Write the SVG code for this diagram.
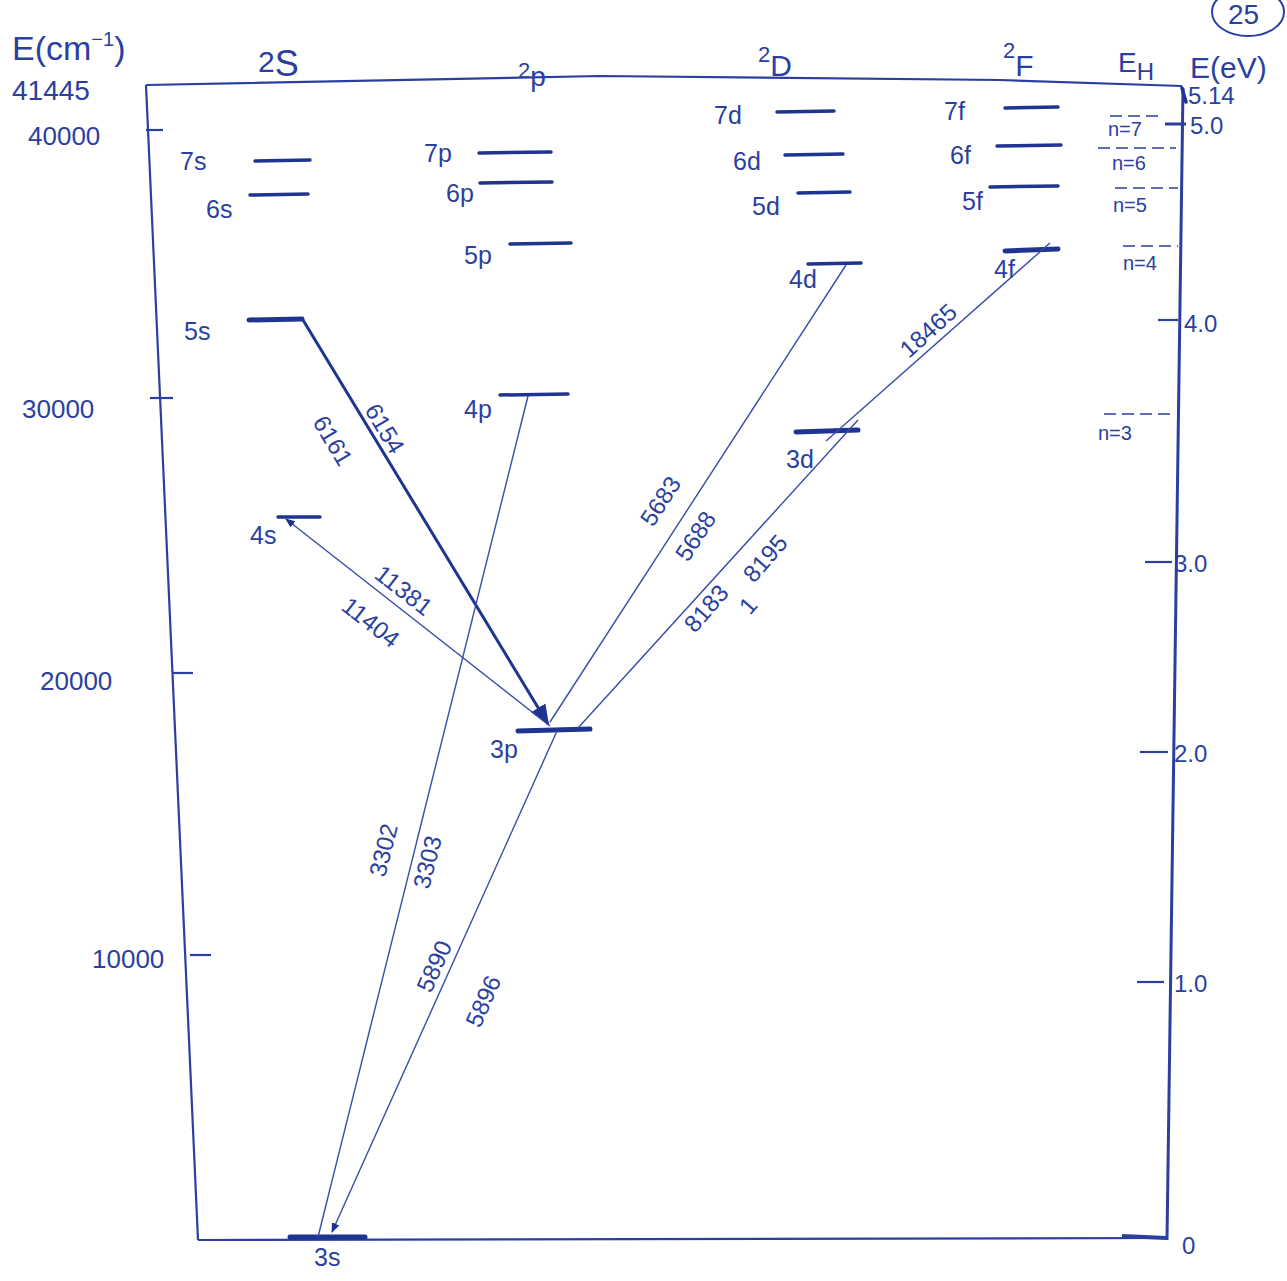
<svg xmlns="http://www.w3.org/2000/svg" width="1287" height="1281" viewBox="0 0 1287 1281">
<style>
text{font-family:"Liberation Sans","DejaVu Sans",sans-serif;fill:#2b3f9e}
.ax{fill:none;stroke:#2b3f9e;stroke-width:2.2}
.tk{stroke:#2b3f9e;stroke-width:2.2}
.lv{stroke:#1f3390;stroke-width:3.5;stroke-linecap:round}
.lvt{stroke:#1f3390;stroke-width:5;stroke-linecap:round}
.tr{fill:none;stroke:#3a4ca6;stroke-width:1.4}
.trb{fill:none;stroke:#1f3390;stroke-width:3}
.dash{stroke:#2b3f9e;stroke-width:1.6;stroke-dasharray:12 6}
.lab{font-size:25px}
.wl{font-size:24px}
.ev{font-size:24px}
</style>
<defs>
<marker id="ah" viewBox="0 0 10 10" refX="9" refY="5" markerWidth="7" markerHeight="7" orient="auto-start-reverse">
<path d="M0,1 L10,5 L0,9 z" fill="#1f3390"/>
</marker>
</defs>
<rect width="1287" height="1281" fill="#ffffff"/>

<g id="frame">
<polyline class="ax" points="146,85 600,76 1000,80 1182,86"/>
<line class="ax" x1="146" y1="85" x2="198" y2="1240"/>
<line class="ax" x1="198" y1="1240" x2="1166" y2="1238"/>
<line class="ax" x1="1183" y1="88" x2="1167" y2="1240" style="stroke-width:3"/>
<line class="tk" x1="146" y1="130" x2="163" y2="130"/>
<line class="tk" x1="150" y1="398" x2="173" y2="398"/>
<line class="tk" x1="172" y1="673" x2="193" y2="673"/>
<line class="tk" x1="190" y1="955" x2="211" y2="955"/>
<line class="tk" x1="1165" y1="124" x2="1186" y2="124" style="stroke-width:3"/>
<line class="tk" x1="1158" y1="320" x2="1178" y2="320"/>
<line class="tk" x1="1145" y1="562" x2="1172" y2="562"/>
<line class="tk" x1="1140" y1="752" x2="1168" y2="752"/>
<line class="tk" x1="1137" y1="982" x2="1164" y2="982"/>
<line class="tk" x1="1122" y1="1236" x2="1166" y2="1238" style="stroke-width:4"/>
<line class="lv" x1="1182" y1="88" x2="1186" y2="102"/>
</g>

<g id="axis-labels">
<text x="12" y="60" font-size="34">E(cm<tspan font-size="20" dy="-14">−1</tspan><tspan dy="14">)</tspan></text>
<text x="12" y="100" font-size="28">41445</text>
<text x="28" y="145" font-size="26">40000</text>
<text x="22" y="418" font-size="26">30000</text>
<text x="40" y="690" font-size="26">20000</text>
<text x="92" y="968" font-size="26">10000</text>
<text x="258" y="72" font-size="30">2<tspan font-size="36" dy="4">S</tspan></text>
<text x="518" y="78" font-size="22">2<tspan font-size="28" dy="8">p</tspan></text>
<text x="758" y="62" font-size="22">2<tspan font-size="30" dy="14">D</tspan></text>
<text x="1003" y="58" font-size="22">2<tspan font-size="30" dy="18">F</tspan></text>
<text x="1118" y="72" font-size="28">E<tspan font-size="24" dy="8">H</tspan></text>
<text x="1190" y="78" font-size="30">E(eV)</text>
<ellipse cx="1248" cy="12" rx="36" ry="24" fill="none" stroke="#2b3f9e" stroke-width="2"/>
<text x="1228" y="24" font-size="28">25</text>
<text x="1188" y="104" class="ev">5.14</text>
<text x="1190" y="134" class="ev">5.0</text>
<text x="1184" y="332" class="ev">4.0</text>
<text x="1174" y="572" class="ev">3.0</text>
<text x="1174" y="762" class="ev">2.0</text>
<text x="1174" y="992" class="ev">1.0</text>
<text x="1182" y="1254" class="ev">0</text>
</g>

<g id="hydrogen">
<line class="dash" x1="1110" y1="116" x2="1162" y2="116"/>
<text x="1108" y="136" font-size="20">n=7</text>
<line class="dash" x1="1098" y1="148" x2="1176" y2="148"/>
<text x="1112" y="170" font-size="20">n=6</text>
<line class="dash" x1="1115" y1="188" x2="1178" y2="188"/>
<text x="1113" y="212" font-size="20">n=5</text>
<line class="dash" x1="1123" y1="246" x2="1178" y2="246"/>
<text x="1123" y="270" font-size="20">n=4</text>
<line class="dash" x1="1104" y1="414" x2="1172" y2="414"/>
<text x="1098" y="440" font-size="20">n=3</text>
</g>

<g id="level-3s"><line class="lvt" x1="290" y1="1237" x2="365" y2="1237"/><text class="lab" x="314" y="1266">3s</text></g>
<g id="level-4s"><line class="lv" x1="278" y1="517" x2="320" y2="517"/><text class="lab" x="250" y="544">4s</text></g>
<g id="level-5s"><line class="lvt" x1="249" y1="320" x2="302" y2="319"/><text class="lab" x="184" y="340">5s</text></g>
<g id="level-6s"><line class="lv" x1="250" y1="195" x2="308" y2="194"/><text class="lab" x="206" y="218">6s</text></g>
<g id="level-7s"><line class="lv" x1="255" y1="161" x2="310" y2="160"/><text class="lab" x="180" y="170">7s</text></g>

<g id="level-3p"><line class="lvt" x1="518" y1="731" x2="590" y2="729"/><text class="lab" x="490" y="758">3p</text></g>
<g id="level-4p"><line class="lv" x1="500" y1="395" x2="568" y2="394"/><text class="lab" x="464" y="418">4p</text></g>
<g id="level-5p"><line class="lv" x1="510" y1="244" x2="571" y2="243"/><text class="lab" x="464" y="264">5p</text></g>
<g id="level-6p"><line class="lv" x1="480" y1="183" x2="552" y2="182"/><text class="lab" x="446" y="202">6p</text></g>
<g id="level-7p"><line class="lv" x1="479" y1="153" x2="551" y2="152"/><text class="lab" x="424" y="162">7p</text></g>

<g id="level-3d"><line class="lvt" x1="796" y1="432" x2="858" y2="430"/><text class="lab" x="786" y="468">3d</text></g>
<g id="level-4d"><line class="lv" x1="808" y1="264" x2="861" y2="263"/><text class="lab" x="789" y="288">4d</text></g>
<g id="level-5d"><line class="lv" x1="798" y1="193" x2="850" y2="192"/><text class="lab" x="752" y="215">5d</text></g>
<g id="level-6d"><line class="lv" x1="785" y1="155" x2="843" y2="154"/><text class="lab" x="733" y="170">6d</text></g>
<g id="level-7d"><line class="lv" x1="777" y1="112" x2="834" y2="111"/><text class="lab" x="714" y="124">7d</text></g>

<g id="level-4f"><line class="lvt" x1="1005" y1="251" x2="1058" y2="249"/><text class="lab" x="994" y="278">4f</text></g>
<g id="level-5f"><line class="lv" x1="990" y1="187" x2="1058" y2="186"/><text class="lab" x="962" y="210">5f</text></g>
<g id="level-6f"><line class="lv" x1="997" y1="146" x2="1061" y2="145"/><text class="lab" x="950" y="164">6f</text></g>
<g id="level-7f"><line class="lv" x1="1005" y1="108" x2="1058" y2="107"/><text class="lab" x="944" y="120">7f</text></g>

<g id="connectors">
<line class="trb" x1="303" y1="320" x2="548" y2="724" marker-end="url(#ah)"/>
<line class="tr" x1="550" y1="726" x2="286" y2="519" marker-end="url(#ah)"/>
<line class="tr" x1="528" y1="396" x2="318" y2="1237"/>
<line class="tr" x1="557" y1="731" x2="332" y2="1232" marker-end="url(#ah)"/>
<line class="tr" x1="846" y1="265" x2="550" y2="722"/>
<line class="tr" x1="578" y1="728" x2="858" y2="420"/>
<line class="tr" x1="826" y1="441" x2="1050" y2="243"/>
</g>

<g id="wavelengths">
<text class="wl" transform="translate(364,410) rotate(59)">6154</text>
<text class="wl" transform="translate(312,422) rotate(59)">6161</text>
<text class="wl" transform="translate(373,577) rotate(38)">11381</text>
<text class="wl" transform="translate(340,609) rotate(38)">11404</text>
<text class="wl" transform="translate(385,878) rotate(-76)">3302</text>
<text class="wl" transform="translate(429,890) rotate(-76)">3303</text>
<text class="wl" transform="translate(431,994) rotate(-66)">5890</text>
<text class="wl" transform="translate(480,1029) rotate(-66)">5896</text>
<text class="wl" transform="translate(653,528) rotate(-57)">5683</text>
<text class="wl" transform="translate(688,563) rotate(-57)">5688</text>
<text class="wl" transform="translate(695,634) rotate(-49)">8183</text>
<text class="wl" transform="translate(754,584) rotate(-49)">8195</text>
<text class="wl" transform="translate(750,616) rotate(-49)">1</text>
<text class="wl" transform="translate(909,359) rotate(-42)">18465</text>
</g>
</svg>
